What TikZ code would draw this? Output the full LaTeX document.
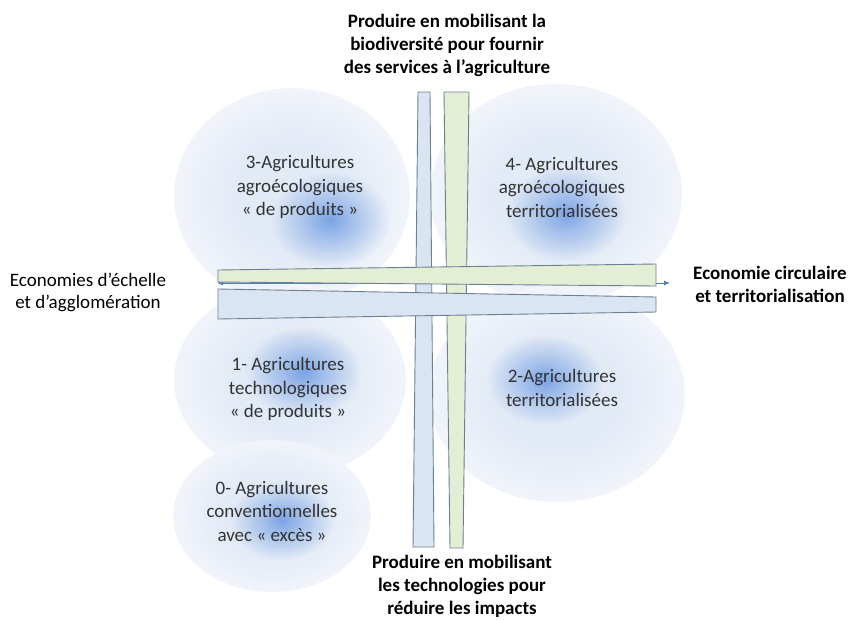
\documentclass[tikz,border=0pt]{standalone}
\usepackage{fontspec}
\setmainfont{Carlito}
\usetikzlibrary{arrows.meta,fadings}
\definecolor{bIn}{HTML}{E2EAF6}
\definecolor{bOut}{HTML}{F1F4FA}
\definecolor{glowc}{HTML}{7AA3E4}
\definecolor{barblue}{HTML}{DAE5F3}
\definecolor{bargreen}{HTML}{E3EED5}
\definecolor{barline}{HTML}{6E8090}
\definecolor{arrowc}{HTML}{4F81BD}
\definecolor{txtc}{HTML}{333333}
\pgfdeclareradialshading{blobbase}{\pgfpoint{0bp}{0bp}}{color(0bp)=(bIn); color(12bp)=(bIn); color(25bp)=(bOut); color(50bp)=(bOut)}
\pgfdeclareradialshading{glowshade}{\pgfpoint{0bp}{0bp}}{color(0bp)=(pgftransparent!0); color(8bp)=(pgftransparent!35); color(25bp)=(pgftransparent!100); color(50bp)=(pgftransparent!100)}
\pgfdeclarefading{glowfade}{\pgfuseshading{glowshade}}
\tikzset{
  blob/.style={shading=blobbase},
  glow/.style={fill=glowc, path fading=glowfade},
  bluebar/.style={fill=barblue, draw=barline, line width=0.9pt, line join=miter},
  greenbar/.style={fill=bargreen, draw=barline, line width=0.9pt, line join=miter},
  circtxt/.style={align=center, text=txtc, font=\fontsize{19}{23.5}\selectfont, inner sep=0pt},
  axistxt/.style={align=center, text=black, font=\fontsize{19}{23}\selectfont\bfseries, inner sep=0pt},
  axisreg/.style={align=center, text=black, font=\fontsize{19}{22}\selectfont, inner sep=0pt},
}
\begin{document}
\begin{tikzpicture}[x=1pt,y=-1pt]
\useasboundingbox (0,0) rectangle (849,619);
\fill[white] (0,0) rectangle (849,619);
% blobs
\shade[blob] (292,196) ellipse (118 and 108);
\fill[glow] (330,220) ellipse (60 and 48);
\shade[blob] (556,194) ellipse (126 and 110);
\fill[glow] (566,214) ellipse (60 and 48);
\shade[blob] (290,380) ellipse (116 and 96);
\fill[glow] (303,372) ellipse (58 and 45);
\shade[blob] (557,394) ellipse (128 and 108);
\fill[glow] (545,380) ellipse (58 and 45);
\shade[blob] (272,516) ellipse (99 and 76);
\fill[glow] (282,520) ellipse (52 and 40);
% white gap between bars
\fill[white] (399,283) rectangle (448,290);
% vertical bars
\draw[bluebar] (418,92) -- (430,92) -- (434,547) -- (413,547) -- cycle;
\draw[greenbar] (444,92) -- (469,92) -- (463,548) -- (450,548) -- cycle;
% axis arrow
\coordinate (aL) at (217,283);
\coordinate (aR) at (670,283);
\draw[arrowc, line width=0.8pt, {Latex[length=6pt,width=5pt]}-{Latex[length=6pt,width=5pt]}] (aL) -- (aR);
% horizontal bars
\draw[greenbar] (218,270) -- (656,264) -- (656,286) -- (218,282) -- cycle;
\draw[bluebar] (218,289) -- (656,297) -- (656,312) -- (218,319) -- cycle;
% texts
\node[circtxt] (c3) at (300,187) {3-Agricultures\\agroécologiques\\« de produits »};
\node[circtxt] (c4) at (562,187) {4- Agricultures\\agroécologiques\\territorialisées};
\node[circtxt] (c1) at (288,389) {1- Agricultures\\technologiques\\« de produits »};
\node[circtxt] (c2) at (562,388) {2-Agricultures\\territorialisées};
\node[circtxt] (c0) at (272,511) {0- Agricultures\\conventionnelles\\avec « excès »};
\node[axistxt] (top) at (447,45) {Produire en mobilisant la\\biodiversité pour fournir\\des services à l’agriculture};
\node[axistxt] (bot) at (462,586) {Produire en mobilisant\\les technologies pour\\réduire les impacts};
\node[axisreg] (left) at (88,292) {Economies d’échelle\\et d’agglomération};
\node[axistxt] (right) at (770,284) {Economie circulaire\\et territorialisation};
\end{tikzpicture}
\end{document}
